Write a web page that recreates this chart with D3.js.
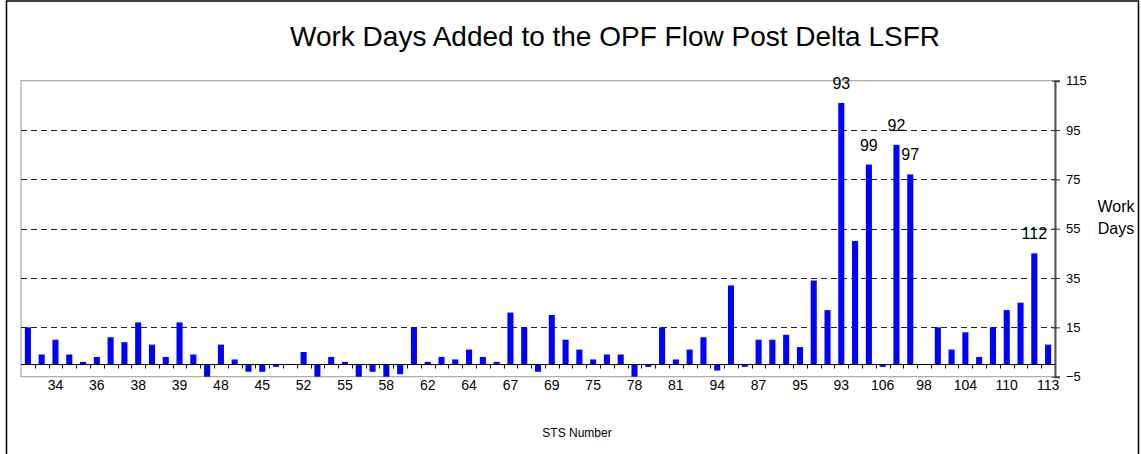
<!DOCTYPE html>
<html>
<head>
<meta charset="utf-8">
<script src="https://cdn.jsdelivr.net/npm/d3@7"></script>
<style>
  body { margin: 0; background: #fff; }
  svg { display: block; font-family: "Liberation Sans", Arial, sans-serif; }
</style>
</head>
<body>
<svg id="chart" width="1141" height="454"></svg>
<script>
// work days added, one per OPF flow (left to right)
var workDays = [15, 4, 10, 4, 1, 3, 11, 9, 17, 8,
                3, 17, 4, -5, 8, 2, -3, -3, -1, 0,
                5, -5, 3, 1, -5, -3, -5, -4, 15, 1,
                3, 2, 6, 3, 1, 21, 15, -3, 20, 10,
                6, 2, 4, 4, -5, -1, 15, 2, 6, 11,
                -2.5, 32, -1, 10, 10, 12, 7, 34, 22, 106,
                50, 81, -1, 89, 77, 0, 15, 6, 13, 3,
                15, 22, 25, 45, 8];

// STS numbers shown under every third flow
var tickLabels = ["34", "36", "38", "39", "48", "45", "52", "55", "58", "62",
                  "64", "67", "69", "75", "78", "81", "94", "87", "95", "93",
                  "106", "98", "104", "110", "113"];

// flows called out with their STS number
var calloutIndex = [59, 61, 63, 64, 73];
var calloutText  = ["93", "99", "92", "97", "112"];

var yTicks = [-5, 15, 35, 55, 75, 95, 115];
var gridValues = [15, 35, 55, 75, 95];

(function () {

  var svg = d3.select("#chart")
    , plotLeft = 21
    , plotRight = 1055
    , plotTop = 80.7
    , plotBottom = 376.7
    , font = "'Liberation Sans', Arial, sans-serif";

  var x = d3.scaleBand()
      .domain(d3.range(workDays.length))
      .range([plotLeft, plotRight])
      .paddingInner(0.56)
      .paddingOuter(0.28);

  var y = d3.scaleLinear()
      .domain([-5, 115])
      .range([plotBottom, plotTop]);

  var step = x.step();

  // outer chart border
  svg.append("rect")
    .attr("x", 6.5).attr("y", 1)
    .attr("width", 1132).attr("height", 470)
    .attr("fill", "none")
    .attr("stroke", "#000")
    .attr("stroke-width", 1.5);

  // title
  svg.append("text")
    .attr("x", 615).attr("y", 46)
    .attr("text-anchor", "middle")
    .attr("font-size", 28)
    .attr("fill", "#000")
    .text("Work Days Added to the OPF Flow Post Delta LSFR");

  // plot area frame
  svg.append("rect")
    .attr("x", plotLeft).attr("y", plotTop)
    .attr("width", plotRight - plotLeft).attr("height", plotBottom - plotTop)
    .attr("fill", "none")
    .attr("stroke", "#999")
    .attr("stroke-width", 1);

  // dashed gridlines
  svg.append("g").selectAll("line")
    .data(gridValues)
    .join("line")
      .attr("x1", plotLeft).attr("x2", plotRight)
      .attr("y1", function (d) { return Math.round(y(d)) + 0.5; })
      .attr("y2", function (d) { return Math.round(y(d)) + 0.5; })
      .attr("stroke", "#222")
      .attr("stroke-dasharray", "6,4");

  // bars
  svg.append("g").selectAll("rect")
    .data(workDays)
    .join("rect")
      .attr("x", function (d, i) { return x(i); })
      .attr("width", x.bandwidth())
      .attr("y", function (d) { return y(Math.max(0, d)); })
      .attr("height", function (d) { return Math.abs(y(d) - y(0)); })
      .attr("fill", "#0000ff");

  // category axis on the zero line
  var zeroY = Math.round(y(0)) + 0.5;
  svg.append("line")
    .attr("x1", plotLeft).attr("x2", plotRight)
    .attr("y1", zeroY).attr("y2", zeroY)
    .attr("stroke", "#000")
    .attr("stroke-width", 1.2);

  svg.append("g").selectAll("line")
    .data(d3.range(1, workDays.length))
    .join("line")
      .attr("x1", function (i) { return Math.round(plotLeft + step * i) + 0.5; })
      .attr("x2", function (i) { return Math.round(plotLeft + step * i) + 0.5; })
      .attr("y1", zeroY).attr("y2", zeroY + 4)
      .attr("stroke", "#000");

  svg.append("g").selectAll("text")
    .data(tickLabels)
    .join("text")
      .attr("x", function (d, k) { return x(2 + 3 * k) + x.bandwidth() / 2; })
      .attr("y", 390)
      .attr("text-anchor", "middle")
      .attr("font-size", 14)
      .attr("fill", "#000")
      .text(function (d) { return d; });

  // value axis on the right
  var yAxis = svg.append("g")
    .attr("transform", "translate(" + plotRight + ",0)")
    .call(d3.axisRight(y).tickValues(yTicks).tickSize(5).tickPadding(6));

  yAxis.select(".domain").attr("stroke", "#555").attr("stroke-width", 2);
  yAxis.selectAll(".tick line").attr("stroke", "#333").attr("x1", -3);
  yAxis.selectAll(".tick text")
    .attr("font-family", font)
    .attr("font-size", 13)
    .attr("fill", "#000");

  // callouts above the tall bars
  svg.append("g").selectAll("text")
    .data(calloutIndex)
    .join("text")
      .attr("x", function (i) { return x(i) + x.bandwidth() / 2; })
      .attr("y", function (i) { return y(workDays[i]) - 14; })
      .attr("text-anchor", "middle")
      .attr("font-size", 16)
      .attr("fill", "#000")
      .text(function (i, k) { return calloutText[k]; });

  // axis titles
  var yTitle = svg.append("text")
    .attr("x", 1116).attr("y", 212)
    .attr("text-anchor", "middle")
    .attr("font-size", 16)
    .attr("fill", "#000");
  yTitle.append("tspan").attr("x", 1116).text("Work");
  yTitle.append("tspan").attr("x", 1116).attr("dy", 22).text("Days");

  svg.append("text")
    .attr("x", 577).attr("y", 437)
    .attr("text-anchor", "middle")
    .attr("font-size", 12)
    .attr("fill", "#000")
    .text("STS Number");

})();
</script>
</body>
</html>
